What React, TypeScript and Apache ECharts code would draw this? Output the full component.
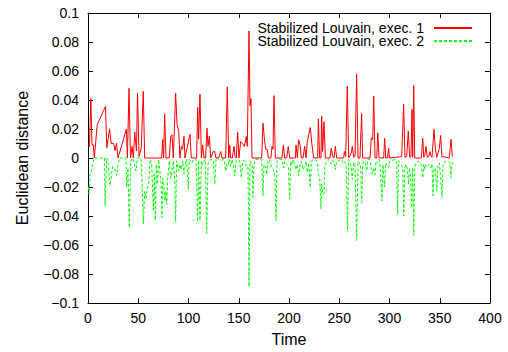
import React, { useEffect, useRef } from "react";
import * as echarts from "echarts";

const seriesNames = ["Stabilized Louvain, exec. 1", "Stabilized Louvain, exec. 2"];
const xTicks = { min: 0, max: 400, interval: 50 };
const yTicks = { min: -0.1, max: 0.1, interval: 0.02 };

// exec. 1 : [time, euclidean distance]
const exec1: [number, number][] = [
  [0.5, 0.010], [1.5, 0.008], [2.8, 0.041], [4, 0.009], [5.3, 0.009], [6.3, 0], [9.2, 0.023], [17.4, 0.0355],
  [18.7, 0.007], [21.5, 0.020], [23, 0.010], [25.5, 0.010], [27, 0.005], [28.3, 0.010], [29.9, 0], [38.2, 0.020],
  [39.2, 0], [40.8, 0.048], [42.3, 0], [43.8, 0.008], [45.1, 0], [46.5, 0.018], [48.2, 0.005], [49.3, 0.0447],
  [50.8, 0.001], [53, 0.007], [55, 0.046], [56.4, 0], [73.3, 0], [74.3, 0.0128], [75.2, 0], [76.3, 0.0304],
  [77.6, 0], [80.9, 0], [82.3, 0.0148], [83.6, 0.016], [84.9, 0], [87.2, 0.0447], [88.6, 0.023], [90.2, 0.019],
  [91.5, 0], [92.8, 0.008], [94.2, 0.006], [95.5, 0.015], [96.5, 0], [101.5, 0.0164], [102.8, 0], [108.1, 0],
  [109.1, 0.035], [110.1, 0.013], [111.4, 0.044], [112.8, 0], [114.1, 0.009], [115.4, 0], [117, 0], [118.4, 0.0205],
  [119.4, 0.008], [120.7, 0.015], [122.1, 0], [124.7, 0.0045], [126.1, 0.0045], [127.4, 0], [130, 0], [132, 0.0045],
  [133.3, 0], [137, 0], [138.6, 0.049], [140, 0], [141, 0.009], [142, 0], [143.6, 0], [145.3, 0.008],
  [146.3, 0.001], [147.6, 0], [148.9, 0.018], [150.2, 0], [151.9, 0.0114], [153.9, 0.010], [155.5, 0.008], [157.5, 0.0148],
  [158.5, 0.008], [160.2, 0.0876], [161.2, 0.036], [162.2, 0.041], [163.2, 0], [172.8, 0], [174.1, 0.024], [175.5, 0.0136],
  [176.8, 0.006], [178.4, 0.006], [179.4, 0], [182, 0], [183.1, 0.008], [184.1, 0.006], [185.1, 0.043], [186.4, 0],
  [193, 0], [194.4, 0.009], [195.7, 0], [197.7, 0], [199.3, 0.008], [200.7, 0], [206.3, 0], [207, 0.009],
  [208.3, 0], [209.6, 0.0125], [211, 0.009], [212.3, 0], [213.9, 0], [215.6, 0.008], [216.9, 0], [218.2, 0.0114],
  [219.6, 0.016], [221.2, 0.021], [222.9, 0.009], [224.5, 0], [228.5, 0], [229.2, 0.027], [230.5, 0], [231.8, 0],
  [232.5, 0.029], [233.5, 0.0045], [234.8, 0.025], [236.2, 0], [240.8, 0], [242.1, 0.0068], [243.5, 0.001], [244.8, 0],
  [246.1, 0.008], [247.5, 0], [254.4, 0], [255.1, 0.0045], [256.4, 0.001], [258, 0.0496], [259.4, 0], [262, 0.0034],
  [263, 0.008], [264.4, 0.0005], [265.7, 0.001], [267.3, 0.058], [268.7, 0], [270.6, 0], [272.3, 0.0307], [273.3, 0],
  [280.6, 0], [281.9, 0.014], [283.3, 0.0125], [284.3, 0.0427], [285.6, 0], [287.3, 0], [288.3, 0.0175], [289.6, 0],
  [294.2, 0], [295.2, 0.0136], [296.2, 0], [297.9, 0], [299.2, 0.0068], [299.9, 0], [312.1, 0.001], [314.1, 0.037],
  [315.4, 0.0005], [317.1, 0.001], [318.7, 0.0186], [320.1, 0.0005], [321.4, 0.001], [322.4, 0.0336], [323.1, 0.0005], [324.1, 0.05],
  [325.1, 0], [331.7, 0], [333.1, 0.0136], [334.1, 0.0005], [335.1, 0.0018], [336.3, 0.008], [337.6, 0.0005], [339, 0.001],
  [340.3, 0.0045], [341, 0.0018], [342.3, 0.0005], [344.3, 0.0198], [345.6, 0.0068], [347, 0.0005], [349.6, 0.0068], [350.9, 0.0155],
  [352.2, 0.001], [359.5, 0], [361.2, 0.013], [362.5, 0.001],
];

// exec. 2 : [time, euclidean distance]
const exec2: [number, number][] = [
  [0.5, -0.020], [1, -0.025], [2, -0.011], [3.3, -0.010], [4.6, -0.004], [6, 0], [16.4, 0], [17, -0.033],
  [18.6, 0], [20, -0.004], [21.9, -0.019], [23.2, -0.013], [24.5, -0.006], [25.9, -0.007], [27.2, -0.009], [28.5, -0.012],
  [29.9, -0.005], [31.2, 0], [37.8, 0], [38.5, -0.020], [39.8, -0.007], [41.1, -0.048], [42.5, -0.002], [44.5, 0],
  [47.8, -0.009], [49.1, 0], [52.7, 0], [53.7, -0.014], [55.1, -0.0455], [56.4, -0.023], [57.7, -0.028], [59, -0.021],
  [60.4, -0.018], [61.7, -0.001], [63.3, -0.0034], [65, -0.036], [66, -0.011], [67, -0.043], [68, -0.0045], [69, -0.018],
  [70.3, -0.001], [71.6, -0.009], [72.6, -0.016], [73.6, -0.041], [74.3, -0.014], [75.6, -0.020], [76.6, -0.0295], [77.6, -0.023],
  [78.3, -0.032], [79.3, -0.014], [80.9, -0.002], [82.3, -0.014], [83.6, -0.009], [84.9, -0.002], [86.2, -0.014], [87.2, -0.044],
  [88.2, -0.002], [90.2, -0.009], [91.5, -0.0045], [92.8, -0.008], [94.2, -0.002], [95.5, -0.011], [96.8, -0.0045], [98.1, -0.001],
  [99.8, -0.0216], [100.8, -0.001], [102.1, -0.002], [103.5, -0.0034], [104.8, -0.001], [107.5, -0.001], [109.1, -0.044], [110.1, -0.002],
  [111.4, -0.043], [112.8, -0.002], [114.1, -0.0045], [115.4, -0.002], [116.7, -0.001], [118.1, -0.052], [119.4, -0.0045], [120.7, -0.002],
  [122.1, -0.001], [123.4, -0.001], [124.7, -0.002], [126.1, -0.018], [127.4, -0.001], [128.7, 0], [131.3, -0.002], [135.3, -0.001],
  [137, -0.009], [138, -0.0045], [139.3, -0.0057], [140.6, -0.001], [142, -0.0057], [143.3, -0.001], [144.6, -0.0045], [146, -0.0125],
  [147.3, -0.002], [150, -0.001], [151.2, -0.0034], [152.6, -0.0136], [153.9, -0.002], [156.5, -0.002], [157.9, -0.0068], [159.2, -0.0068],
  [160.2, -0.0886], [161.2, -0.002], [163.2, -0.0045], [164.2, -0.027], [165.2, -0.0045], [166.5, -0.001], [172.8, -0.001], [174.1, -0.026],
  [175.1, -0.0045], [176.5, -0.0057], [177.8, -0.0114], [179.1, -0.002], [180.4, -0.001], [181.8, -0.0045], [183.1, -0.0068], [184.4, -0.008],
  [185.8, -0.0114], [187.1, -0.0432], [188.1, -0.002], [189.4, -0.001], [193, -0.001], [194.4, -0.0068], [195.7, -0.0023], [197.7, -0.0045],
  [199.3, -0.0057], [200.7, -0.0284], [201.7, -0.0023], [203, -0.0045], [204.3, -0.001], [205.6, -0.0045], [207, -0.008], [208.3, -0.0045],
  [209.6, -0.0125], [211, -0.0045], [212.3, -0.0023], [213.9, -0.008], [215.6, -0.0057], [216.9, -0.0023], [218.2, -0.010], [219.6, -0.0034],
  [221.2, -0.0205], [222.2, -0.0023], [224.5, -0.001], [226.5, -0.001], [228.2, -0.0034], [229.2, -0.0114], [230.5, -0.0136], [231.8, -0.035],
  [232.5, -0.018], [233.5, -0.024], [234.8, -0.025], [235.8, -0.0045], [237.5, -0.0023], [238.8, -0.001], [240.8, -0.0023], [242.1, -0.0045],
  [243.5, -0.0023], [244.8, -0.0023], [246.1, -0.008], [247.5, -0.0023], [252.1, -0.001], [254, -0.0034], [255.7, -0.0023], [257, -0.0068],
  [258.2, -0.050], [259.4, -0.001], [260.7, -0.0023], [262, -0.0068], [263, -0.0148], [264.4, -0.0034], [265.7, -0.0045], [267.3, -0.0568],
  [268.7, -0.0023], [270, -0.0034], [271.3, -0.0068], [272.3, -0.0307], [273.3, -0.0045], [274.6, -0.0023], [276, -0.0034], [277.3, -0.009],
  [278.6, -0.001], [280.6, -0.001], [281.9, -0.0068], [282.9, -0.0114], [284.3, -0.0068], [285.6, -0.0114], [286.6, -0.0023], [288.3, -0.0034],
  [289.6, -0.001], [290.5, -0.0034], [291.5, -0.0159], [292.5, -0.0295], [293.5, -0.0045], [295.2, -0.020], [296.2, -0.0034], [299.2, -0.0068],
  [300.2, -0.0023], [305.5, -0.001], [307.1, -0.0023], [308.1, -0.0386], [309.1, -0.0023], [310.4, -0.0034], [311.8, -0.0045], [313.1, -0.0068],
  [314.2, -0.040], [315.2, -0.0068], [316.4, -0.0045], [317.7, -0.0068], [318.9, -0.018], [319.8, -0.0068], [320.7, -0.0114], [322.1, -0.034],
  [323.1, -0.0068], [324.1, -0.0534], [325.1, -0.0068], [326.4, -0.0034], [329, -0.0023], [331, -0.0034], [332, -0.0068], [333.1, -0.0136],
  [334.1, -0.0045], [335.3, -0.008], [336.3, -0.0045], [337.6, -0.0057], [339, -0.0045], [340.3, -0.0057], [341.3, -0.0068], [342.3, -0.0045],
  [343.3, -0.026], [344.3, -0.008], [345.6, -0.0068], [347, -0.0227], [348.3, -0.0045], [349.6, -0.0034], [350.9, -0.0136], [352.2, -0.027],
  [353.2, -0.0045], [355.2, -0.0023], [358.5, -0.0023], [360.2, -0.0034], [361.2, -0.0136], [362.5, -0.0023],
];

const FONT = "'Liberation Sans', Arial, Helvetica, sans-serif";

function fmtY(v: number): string {
  if (Math.abs(v) < 1e-9) return "0";
  const s = String(parseFloat(v.toFixed(2)));
  return s.replace("-", "\u2212");
}

export default function App() {
  const ref = useRef<HTMLDivElement>(null);
  useEffect(() => {
    if (!ref.current) return;
    const chart = echarts.init(ref.current, undefined, { renderer: "svg" });
    const axisLine = { show: true, onZero: false, lineStyle: { color: "#000", width: 1 } };
    const tick = { show: true, inside: true, length: 5, lineStyle: { color: "#000", width: 1 } };
    const legendCommon = {
      orient: "vertical", align: "right", right: 35, padding: 0,
      itemWidth: 38, itemHeight: 12,
      itemStyle: { opacity: 0, borderWidth: 0 },
      textStyle: { fontFamily: FONT, fontSize: 14, color: "#000", lineHeight: 12, padding: [0, 5, 0, 0] },
    };
    chart.setOption({
      animation: false,
      backgroundColor: "#fff",
      textStyle: { fontFamily: FONT },
      grid: { left: 88, right: 18, top: 13, bottom: 45, containLabel: false },
      legend: [
        { ...legendCommon, data: [seriesNames[0]], top: 21 },
        { ...legendCommon, data: [seriesNames[1]], top: 34 },
      ],
      xAxis: [
        {
          type: "value", min: xTicks.min, max: xTicks.max, interval: xTicks.interval,
          name: "Time", nameLocation: "middle", nameGap: 28,
          nameTextStyle: { fontFamily: FONT, fontSize: 16, color: "#000" },
          axisLine, axisTick: tick, splitLine: { show: false },
          axisLabel: { fontFamily: FONT, fontSize: 14, color: "#000", margin: 8 },
        },
        {
          type: "value", position: "top", min: xTicks.min, max: xTicks.max, interval: xTicks.interval,
          axisLine, axisTick: tick, splitLine: { show: false }, axisLabel: { show: false },
        },
      ],
      yAxis: [
        {
          type: "value", min: yTicks.min, max: yTicks.max, interval: yTicks.interval,
          name: "Euclidean distance", nameLocation: "middle", nameGap: 58,
          nameTextStyle: { fontFamily: FONT, fontSize: 16, color: "#000" },
          axisLine, axisTick: tick, splitLine: { show: false },
          axisLabel: { fontFamily: FONT, fontSize: 14, color: "#000", margin: 9, formatter: fmtY },
        },
        {
          type: "value", position: "right", min: yTicks.min, max: yTicks.max, interval: yTicks.interval,
          axisLine, axisTick: tick, splitLine: { show: false }, axisLabel: { show: false },
        },
      ],
      series: [
        {
          name: seriesNames[0], type: "line", data: exec1, symbol: "none", z: 3,
          lineStyle: { color: "#ff0000", width: 1 }, itemStyle: { color: "#ff0000" },
        },
        {
          name: seriesNames[1], type: "line", data: exec2, symbol: "none", z: 2,
          lineStyle: { color: "#00ff00", width: 1, type: [3, 2] }, itemStyle: { color: "#00ff00" },
        },
      ],
    });
    return () => chart.dispose();
  }, []);
  return <div ref={ref} style={{ width: 508, height: 352, position: "absolute", left: 0, top: 0 }} />;
}
